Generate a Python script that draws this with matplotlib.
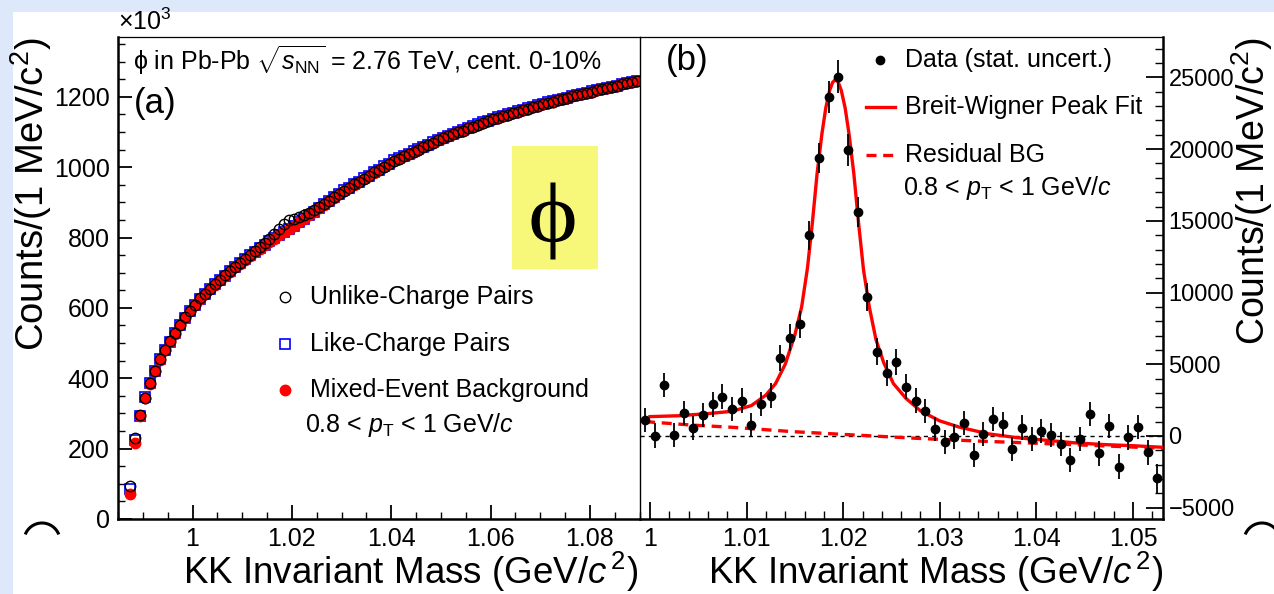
import numpy as np
import matplotlib.pyplot as plt
from matplotlib.patches import Rectangle, Arc, PathPatch
from matplotlib.ticker import MultipleLocator
from matplotlib.textpath import TextPath
from matplotlib.font_manager import FontProperties
from matplotlib.transforms import Affine2D

plt.rcParams['font.family'] = ['Liberation Sans', 'DejaVu Sans']
plt.rcParams['mathtext.fontset'] = 'custom'
plt.rcParams['mathtext.rm'] = 'Liberation Sans'
plt.rcParams['mathtext.it'] = 'Liberation Sans:italic'
plt.rcParams['mathtext.bf'] = 'Liberation Sans:bold'

# ---- panel (a): invariant mass distributions, 1 MeV bins (x10^3 counts) ----
mass_a = np.round(np.arange(0.9875, 1.0900, 0.001), 4)
mixed = [72, 215, 292, 345, 385, 420, 453, 480, 503, 527, 550, 571, 591, 608,
         624, 639, 653, 666, 679, 691, 703, 715, 726, 737, 748, 758, 768, 778,
         788, 797, 806, 815, 824, 833, 843, 853, 863, 873, 883, 893, 903, 913,
         923, 933, 941, 950, 958, 967, 975, 984, 992, 1001, 1009, 1018, 1024,
         1031, 1037, 1044, 1050, 1057, 1063, 1070, 1076, 1083, 1088, 1094, 1099,
         1104, 1110, 1115, 1121, 1126, 1131, 1137, 1141, 1145, 1149, 1154, 1158,
         1162, 1166, 1170, 1175, 1179, 1183, 1186, 1190, 1193, 1197, 1201, 1204,
         1208, 1211, 1215, 1218, 1222, 1225, 1228, 1231, 1235, 1238, 1241, 1245]
like = [85, 225, 293, 346, 386, 421, 454, 481, 504, 528, 551, 572, 592, 609,
        625, 640, 654, 667, 680, 692, 704, 716, 727, 738, 749, 759, 769, 779,
        789, 798, 807, 816, 825, 834, 844, 854, 864, 874, 884, 894, 904, 914,
        924, 934, 942, 951, 959, 968, 976, 985, 993, 1002, 1010, 1019, 1025,
        1032, 1038, 1045, 1051, 1058, 1064, 1071, 1077, 1084, 1089, 1095, 1100,
        1105, 1111, 1116, 1122, 1127, 1132, 1138, 1142, 1146, 1150, 1155, 1159,
        1163, 1167, 1171, 1176, 1180, 1184, 1187, 1191, 1194, 1198, 1202, 1205,
        1209, 1212, 1216, 1219, 1223, 1226, 1229, 1232, 1236, 1239, 1242, 1246]
unlike = [95, 229, 296, 345, 387, 420, 455, 480, 505, 529, 552, 574, 592, 608,
          627, 639, 655, 667, 680, 693, 706, 717, 728, 738, 750, 761, 773, 785,
          796, 811, 825, 839, 849, 853, 859, 863, 869, 877, 888, 896, 905, 915,
          923, 933, 941, 951, 958, 967, 976, 985, 992, 1001, 1009, 1018, 1024,
          1031, 1037, 1044, 1050, 1057, 1063, 1070, 1076, 1083, 1088, 1094, 1099,
          1104, 1110, 1115, 1121, 1126, 1131, 1137, 1141, 1145, 1149, 1154, 1158,
          1162, 1166, 1170, 1175, 1179, 1183, 1186, 1190, 1193, 1197, 1201, 1204,
          1208, 1211, 1215, 1218, 1222, 1225, 1228, 1231, 1235, 1238, 1241, 1245]

# ---- panel (b): background-subtracted signal ----
mass_b = np.round(np.arange(0.9995, 1.0530, 0.001), 4)
signal = [1115, 20, 3555, 70, 1580, 535, 1465, 2205, 2740, 1880, 2460, 765,
          2230, 2810, 5415, 6855, 7785, 14000, 19370, 23640, 25050, 19950,
          15620, 9680, 5880, 4370, 5135, 3440, 2440, 1740, 490, -440, -45, 885,
          -1325, 140, 1185, 835, -905, 580, -230, 350, 70, -580, -1670, -210,
          1535, -1210, 700, -2140, -95, 605, -1140, -2950]
signal_err = [850, 850, 850, 850, 850, 850, 850, 860, 860, 860, 860, 870,
              870, 880, 900, 920, 950, 1000, 1050, 1100, 1150, 1100, 1050,
              1000, 950, 920, 900, 880, 870, 860, 860, 850, 850, 850, 850, 850,
              850, 850, 850, 850, 850, 850, 850, 850, 850, 850, 850, 850, 850,
              850, 850, 850, 850, 1000]

fit_mass = [1.0000, 1.0030, 1.0060, 1.0085, 1.0105, 1.0120, 1.0130, 1.0140,
            1.0150, 1.0157, 1.0163, 1.0168, 1.0173, 1.0178, 1.0182, 1.0186,
            1.0189, 1.0192, 1.0195, 1.0198, 1.0202, 1.0206, 1.0211, 1.0216,
            1.0221, 1.0227, 1.0234, 1.0242, 1.0252, 1.0265, 1.0280, 1.0300,
            1.0320, 1.0350, 1.0380, 1.0410, 1.0440, 1.0470, 1.0500, 1.0531]
fit_total = [1350, 1410, 1560, 1720, 2120, 2850, 3650, 5000, 7050, 9000,
             11700, 14800, 18300, 21080, 22880, 24100, 24650, 24860, 24650,
             24100, 22880, 21080, 18300, 14800, 11600, 9000, 6700, 5100, 3650,
             2620, 1750, 1050, 620, 150, -120, -300, -480, -600, -680, -790]
bg_mass = [0.9995, 1.0042, 1.0085, 1.0148, 1.0211, 1.0275, 1.0338, 1.0401,
           1.0464, 1.0531]
bg_resid = [1000, 765, 605, 300, 70, -160, -350, -510, -675, -860]

W, H = 1274, 594
fig = plt.figure(figsize=(W / 100, H / 100), dpi=100)
fig.patch.set_facecolor('#dde9fa')
fig.patches.append(Rectangle((13 / W, 0), 1, 1 - 12 / H, transform=fig.transFigure,
                             facecolor='white', edgecolor='none', zorder=-5))

x0, x1, x2 = 118, 640, 1163
yb, yt = 519, 37
ax = fig.add_axes([x0 / W, 1 - yb / H, (x1 - x0) / W, (yb - yt) / H])
bx = fig.add_axes([x1 / W, 1 - yb / H, (x2 - x1) / W, (yb - yt) / H])
bx.patch.set_visible(False)

FS = 18

# panel (a)
ax.plot(mass_a, like, ls='none', marker='s', ms=7, mfc='none', mec='#0000ff', mew=1.2)
ax.plot(mass_a, mixed, ls='none', marker='o', ms=7.5, mfc='#ff0000', mec='#ff0000')
ax.plot(mass_a, unlike, ls='none', marker='o', ms=7.5, mfc='none', mec='black', mew=1.0)
ax.set_xlim(0.985, 1.0901)
ax.set_ylim(0, 1370)
ax.xaxis.set_minor_locator(MultipleLocator(0.005))
ax.yaxis.set_major_locator(MultipleLocator(200))
ax.yaxis.set_minor_locator(MultipleLocator(50))
ax.set_xticks([1.0, 1.02, 1.04, 1.06, 1.08])
ax.set_xticklabels(['1', '1.02', '1.04', '1.06', '1.08'])
ax.tick_params(which='both', direction='in', labelsize=FS, top=False, right=False, pad=6)
ax.tick_params(which='major', length=10, width=1.3)
ax.tick_params(which='minor', length=5, width=1.0)
ax.spines['left'].set_linewidth(1.8)
ax.spines['bottom'].set_linewidth(1.8)
ax.spines['top'].set_linewidth(0.9)
ax.spines['right'].set_linewidth(1.0)

ax.text(0.029, 0.952, r'ϕ in Pb-Pb $\sqrt{s_{\rm NN}}$ = 2.76 TeV, cent. 0-10%',
        transform=ax.transAxes, fontsize=FS, va='center', ha='left')
ax.text(0.031, 0.862, '(a)', transform=ax.transAxes, fontsize=25, va='center', ha='left')
ax.add_patch(Rectangle((0.7548, 0.5187), 0.1648, 0.2552, transform=ax.transAxes,
                       facecolor='#f7f77a', edgecolor='none', zorder=1))

# big serif phi in the yellow box, scaled to the reference glyph box (pixels)
phi = TextPath((0, 0), 'ϕ', size=100, prop=FontProperties(family=['Liberation Serif', 'DejaVu Serif']))
ext = phi.get_extents()
phi_tr = (Affine2D().translate(-ext.x0 - ext.width / 2, -ext.y0 - ext.height / 2)
          .scale(43 / ext.width, 77 / ext.height).translate(553, H - 221))
fig.patches.append(PathPatch(phi, transform=phi_tr, facecolor='black', edgecolor='none', zorder=3))

# legend (a)
leg_y = [0.4606, 0.3631, 0.2676]
ax.plot([0.32], [leg_y[0]], transform=ax.transAxes, marker='o', ms=7.5, mfc='none', mec='black', mew=1.0)
ax.plot([0.32], [leg_y[1]], transform=ax.transAxes, marker='s', ms=7, mfc='none', mec='#0000ff', mew=1.2)
ax.plot([0.32], [leg_y[2]], transform=ax.transAxes, marker='o', ms=7.5, mfc='#ff0000', mec='#ff0000')
for yy, lab in zip(leg_y, ['Unlike-Charge Pairs', 'Like-Charge Pairs', 'Mixed-Event Background']):
    ax.text(0.368, yy, lab, transform=ax.transAxes, fontsize=FS, va='center', ha='left')
ax.text(0.358, 0.195, r'0.8 < $p_{\rm T}$ < 1 GeV/$c$', transform=ax.transAxes,
        fontsize=FS, va='center', ha='left')

# panel (b)
bx.axhline(0, color='black', lw=1.0, ls=(0, (3, 3)), zorder=1)
bx.plot(bg_mass, bg_resid, color='red', lw=2.4, ls=(0, (3, 2)), zorder=2)
bx.plot(fit_mass, fit_total, color='red', lw=2.4, zorder=3)
bx.errorbar(mass_b, signal, yerr=signal_err, fmt='o', color='black', ms=6,
            elinewidth=1.3, capsize=0, zorder=4)
bx.set_xlim(0.99897, 1.0531)
bx.set_ylim(-5790, 27820)
bx.xaxis.set_minor_locator(MultipleLocator(0.002))
bx.yaxis.set_major_locator(MultipleLocator(5000))
bx.yaxis.set_minor_locator(MultipleLocator(1000))
bx.set_xticks([1.0, 1.01, 1.02, 1.03, 1.04, 1.05])
bx.set_xticklabels(['1', '1.01', '1.02', '1.03', '1.04', '1.05'])
bx.yaxis.tick_right()
bx.tick_params(which='both', direction='in', labelsize=FS, top=False, left=False, pad=6)
bx.tick_params(axis='y', labelsize=17, pad=4)
bx.tick_params(which='major', length=12, width=1.3)
bx.tick_params(which='minor', length=6, width=1.0)
bx.spines['left'].set_visible(False)
bx.spines['right'].set_linewidth(1.8)
bx.spines['bottom'].set_linewidth(1.8)
bx.spines['top'].set_linewidth(0.9)

bx.text(0.050, 0.952, '(b)', transform=bx.transAxes, fontsize=25, va='center', ha='left')
bx.plot([0.459], [0.952], transform=bx.transAxes, marker='o', ms=6, color='black')
bx.plot([0.432, 0.488], [0.855, 0.855], transform=bx.transAxes, color='red', lw=2.4)
bx.plot([0.432, 0.488], [0.755, 0.755], transform=bx.transAxes, color='red', lw=2.4, ls=(0, (3, 2)))
for yy, lab in zip([0.952, 0.855, 0.755], ['Data (stat. uncert.)', 'Breit-Wigner Peak Fit', 'Residual BG']):
    bx.text(0.507, yy, lab, transform=bx.transAxes, fontsize=FS, va='center', ha='left')
bx.text(0.503, 0.687, r'0.8 < $p_{\rm T}$ < 1 GeV/$c$', transform=bx.transAxes,
        fontsize=FS, va='center', ha='left')

# axis titles, ROOT style
fig.text(x0 / W, 1 - 22 / H, r'$\times$10$^3$', fontsize=FS, ha='left', va='center')
ylab = r'Counts/(1 MeV/c$^2$)'
fig.text(31 / W, 1 - 37 / H, ylab, rotation=90, fontsize=27.5, ha='center', va='top')
fig.text(1252 / W, 1 - 37 / H, ylab, rotation=90, fontsize=27, ha='center', va='top')
xlab = r'KK Invariant Mass (GeV/$c^{\,2}$)'
fig.text(638 / W, 1 - 584 / H, xlab, fontsize=26.5, ha='right', va='baseline')
fig.text(1163 / W, 1 - 584 / H, xlab, fontsize=26.5, ha='right', va='baseline')

# tops of the cut-off axis titles of the panels below
for xc in (42, 1262):
    fig.patches.append(Arc((xc / W, 1 - 541 / H), 36 / W, 36 / H, theta1=40, theta2=140,
                           transform=fig.transFigure, color='black', lw=2.2))

fig.savefig('out.png', dpi=100)
